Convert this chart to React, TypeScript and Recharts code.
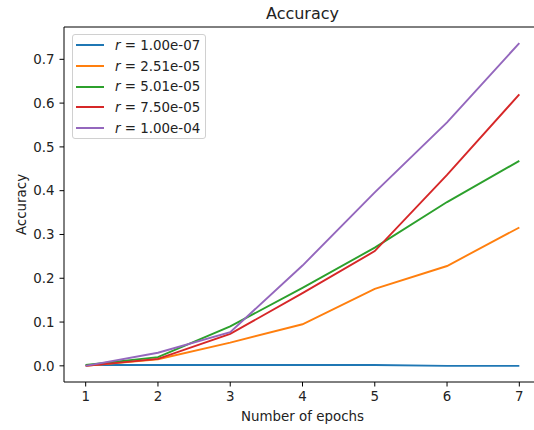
import React from 'react';
import { LineChart, Line, XAxis, YAxis, ReferenceLine } from 'recharts';

// epochs on the x axis
const epochs = [1, 2, 3, 4, 5, 6, 7];

// accuracy per learning rate
const acc1e7 = [0.002, 0.002, 0.002, 0.002, 0.002, 0.0, 0.0];
const acc251e5 = [0.0, 0.015, 0.053, 0.095, 0.176, 0.228, 0.316];
const acc501e5 = [0.002, 0.02, 0.09, 0.178, 0.27, 0.374, 0.468];
const acc750e5 = [0.0, 0.016, 0.073, 0.166, 0.262, 0.436, 0.62];
const acc1e4 = [0.0, 0.03, 0.077, 0.229, 0.396, 0.556, 0.737];

const rateLabels = ['1.00e-07', '2.51e-05', '5.01e-05', '7.50e-05', '1.00e-04'];
const yTicks = [0, 0.1, 0.2, 0.3, 0.4, 0.5, 0.6, 0.7];

const colors = ['#1f77b4', '#ff7f0e', '#2ca02c', '#d62728', '#9467bd'];
const series = [acc1e7, acc251e5, acc501e5, acc750e5, acc1e4];

const data = epochs.map((e, i) => ({
  epoch: e,
  s0: series[0][i],
  s1: series[1][i],
  s2: series[2][i],
  s3: series[3][i],
  s4: series[4][i],
}));

const Y_MIN = -0.0369;
const Y_MAX = 0.7738;
const FONT = '"DejaVu Sans", sans-serif';
const FS = 13.4;

const LegendBox = () => (
  <div
    style={{
      position: 'absolute',
      left: 72,
      top: 34,
      border: '1px solid #d0d0d0',
      borderRadius: 3,
      background: 'rgba(255,255,255,0.8)',
      padding: '0px 5px 0px 3px',
      fontFamily: FONT,
      fontSize: FS,
      color: '#222',
    }}
  >
    {rateLabels.map((lab, i) => (
      <div key={lab} style={{ display: 'flex', alignItems: 'center', height: 20.7 }}>
        <span style={{ display: 'inline-block', width: 28, height: 2, background: colors[i], marginRight: 11 }} />
        <span>
          <i>r</i> = {lab}
        </span>
      </div>
    ))}
  </div>
);

export default function App() {
  return (
    <div style={{ position: 'absolute', left: 0, top: 0, width: 534, height: 430, overflow: 'hidden', background: '#fff' }}>
      <div
        style={{
          position: 'absolute',
          left: 64,
          width: 477,
          top: 4,
          textAlign: 'center',
          fontFamily: FONT,
          fontSize: 16,
          color: '#222',
        }}
      >
        Accuracy
      </div>
      <LineChart width={560} height={430} data={data} margin={{ top: 27, right: 19, bottom: 0, left: 0 }}>
        <XAxis
          dataKey="epoch"
          type="number"
          domain={[0.7, 7.3]}
          ticks={epochs}
          height={48}
          stroke="#000"
          tickSize={4.5}
          tickMargin={5}
          tick={{ fill: '#222', fontSize: FS, fontFamily: FONT }}
          label={{ value: 'Number of epochs', position: 'insideBottom', offset: 9, fill: '#222', fontSize: FS, fontFamily: FONT }}
        />
        <YAxis
          type="number"
          domain={[Y_MIN, Y_MAX]}
          ticks={yTicks}
          width={64}
          stroke="#000"
          tickSize={4.5}
          tickMargin={5}
          tickFormatter={(v: number) => v.toFixed(1)}
          tick={{ fill: '#222', fontSize: FS, fontFamily: FONT }}
          label={{ value: 'Accuracy', angle: -90, position: 'insideLeft', offset: 21, textAnchor: 'middle', fill: '#222', fontSize: FS, fontFamily: FONT }}
        />
        <ReferenceLine y={Y_MAX} stroke="#000" />
        {series.map((_, i) => (
          <Line
            key={i}
            dataKey={'s' + i}
            stroke={colors[i]}
            strokeWidth={1.9}
            dot={false}
            isAnimationActive={false}
          />
        ))}
      </LineChart>
      <LegendBox />
    </div>
  );
}
